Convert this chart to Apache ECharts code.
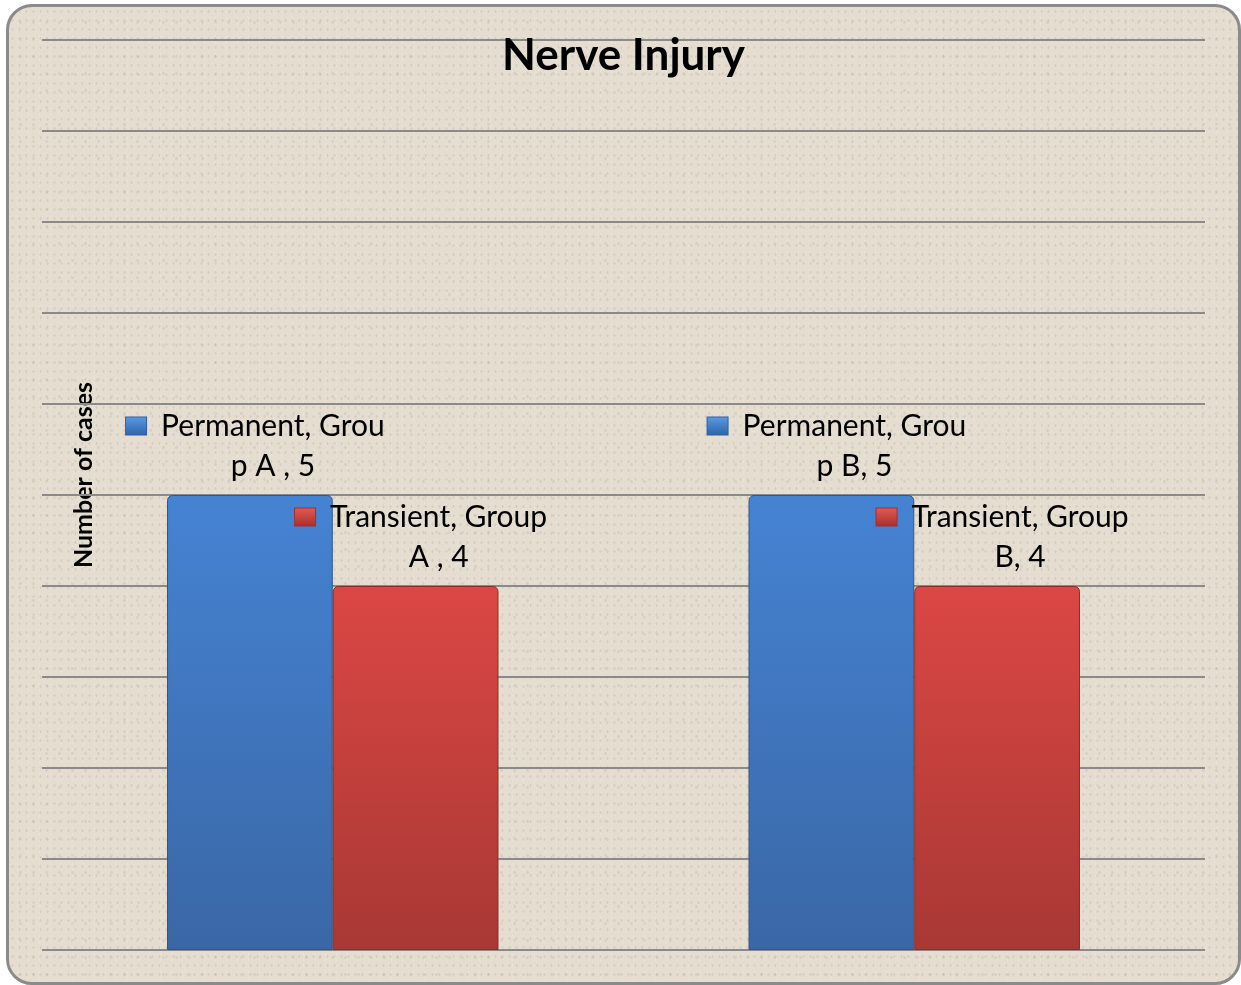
<!DOCTYPE html>
<html>
<head>
<meta charset="utf-8">
<script src="https://cdn.jsdelivr.net/npm/echarts@6/dist/echarts.min.js"></script>
<style>
  html, body { margin: 0; padding: 0; background: #ffffff; }
  #frame {
    position: absolute; left: 6px; top: 4px; width: 1229px; height: 975px;
    border: 3px solid #8b8b8b; border-radius: 26px;
    background-color: #e4ddd0;
    background-image:
      radial-gradient(rgba(120,110,95,0.14) 0.8px, transparent 1.3px),
      radial-gradient(rgba(255,255,255,0.30) 0.8px, transparent 1.3px),
      radial-gradient(rgba(110,100,85,0.10) 1px, transparent 1.6px);
    background-size: 7px 9px, 11px 6px, 13px 17px;
    background-position: 0 0, 3px 2px, 5px 7px;
  }
  #chart { position: absolute; left: 0; top: 0; width: 1241px; height: 985px; }
</style>
</head>
<body>
<div id="frame"></div>
<div id="chart"></div>
<script>
// Nerve injury cases by group
const categories = ['Group A ', 'Group B'];
const seriesNames = ['Permanent', 'Transient'];
const permanentCases = [5, 5];
const transientCases = [4, 4];
const yTicks = [0, 1, 2, 3, 4, 5, 6, 7, 8, 9, 10];

const FONT = 'Lato, "Open Sans", sans-serif';

// Small bevelled legend key drawn in front of each data label
function keyStyle(top, bottom) {
  return {
    width: 20, height: 17,
    backgroundColor: {
      type: 'linear', x: 0, y: 0, x2: 0, y2: 1,
      colorStops: [{ offset: 0, color: top }, { offset: 1, color: bottom }]
    },
    borderColor: bottom, borderWidth: 1
  };
}

// Excel-style data labels: "Series, Category, value" wrapped onto two lines
function makeLabel(breakAt, keyTop, keyBottom) {
  return {
    show: true,
    position: 'top',
    distance: 9,
    offset: [23, 0],
    align: 'center',
    formatter: function (p) {
      const s = p.seriesName + ', ' + p.name + ', ' + p.value;
      const l1 = s.slice(0, breakAt[p.dataIndex]);
      const l2 = s.slice(breakAt[p.dataIndex]).replace(/^ /, '');
      return '{k|}{g|}{t|' + l1 + '}{g2|}\n{t|' + l2 + '}';
    },
    rich: {
      k: keyStyle(keyTop, keyBottom),
      g: { width: 15 },
      g2: { width: 35 },
      t: { fontFamily: FONT, fontSize: 30, color: '#000000', lineHeight: 40 }
    }
  };
}

function barGradient(top, bottom) {
  return {
    type: 'linear', x: 0, y: 0, x2: 0, y2: 1,
    colorStops: [{ offset: 0, color: top }, { offset: 1, color: bottom }]
  };
}

const chart = echarts.init(document.getElementById('chart'), null, { renderer: 'canvas' });

chart.setOption({
  backgroundColor: 'transparent',
  animation: false,
  title: {
    text: 'Nerve Injury',
    left: 497,
    top: 29,
    textStyle: { fontFamily: FONT, fontWeight: 'bold', fontSize: 44, color: '#000000' }
  },
  graphic: [{
    type: 'text',
    x: 84, y: 475,
    rotation: Math.PI / 2,
    style: {
      text: 'Number of cases',
      fontFamily: FONT, fontWeight: 'bold', fontSize: 25,
      fill: '#000000',
      textAlign: 'center', textVerticalAlign: 'middle'
    }
  }],
  grid: { left: 42, right: 36, top: 40, bottom: 35 },
  xAxis: {
    type: 'category',
    data: categories,
    axisLine: { show: false },
    axisTick: { show: false },
    axisLabel: { show: false }
  },
  yAxis: {
    type: 'value',
    min: yTicks[0],
    max: yTicks[yTicks.length - 1],
    interval: 1,
    axisLine: { show: false },
    axisTick: { show: false },
    axisLabel: { show: false },
    splitLine: { lineStyle: { color: '#8a8a8a', width: 2 } }
  },
  series: [
    {
      name: seriesNames[0],
      type: 'bar',
      data: permanentCases,
      barGap: '0%',
      barCategoryGap: '43%',
      itemStyle: {
        color: barGradient('#4583d3', '#3a67a6'),
        borderColor: '#2f5688', borderWidth: 1,
        borderRadius: [5, 5, 0, 0]
      },
      label: makeLabel([15, 15], '#5b9be3', '#2e62a8')
    },
    {
      name: seriesNames[1],
      type: 'bar',
      data: transientCases,
      itemStyle: {
        color: barGradient('#db4744', '#a83834'),
        borderColor: '#8a2d2a', borderWidth: 1,
        borderRadius: [5, 5, 0, 0]
      },
      label: makeLabel([16, 16], '#e45a57', '#a82e2b')
    }
  ]
});
</script>
</body>
</html>
